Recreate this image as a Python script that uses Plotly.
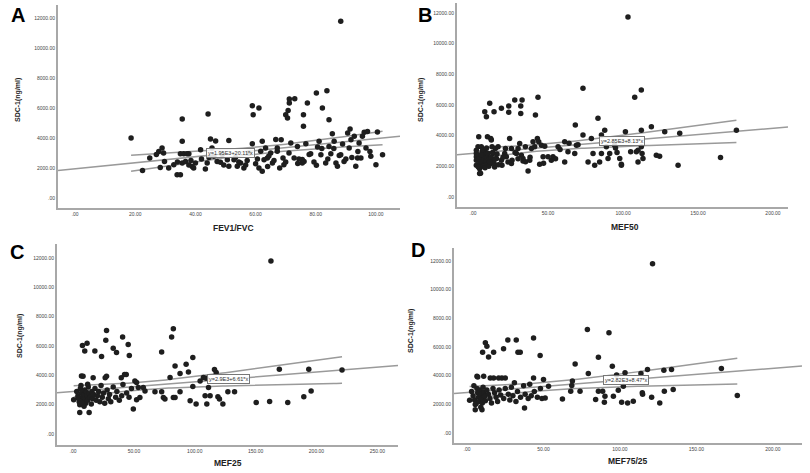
import numpy as np
import plotly.graph_objects as go

# ---------------- data ----------------
yticks = [0, 2000, 4000, 6000, 8000, 10000, 12000]
ytick_text = [".00", "2000.00", "4000.00", "6000.00", "8000.00", "10000.00", "12000.00"]

xA = [18.6, 22.4, 24.8, 27.0, 27.8, 28.9, 29.4, 28.3, 29.7, 31.1, 32.8, 33.9, 35.0, 35.6, 35.6, 35.0, 36.1, 37.2, 37.8,
      35.6, 36.7, 37.8, 38.9, 39.4, 40.0, 41.7, 43.3, 43.9, 44.2, 45.0, 45.5, 46.1, 47.2, 48.3, 50.6, 51.1, 51.1, 52.8,
      53.9, 55.0, 56.1, 57.2, 58.9, 59.2, 58.9, 60.0, 61.1, 61.1, 61.7, 62.2, 62.2, 62.8, 63.3, 63.9, 65.0, 65.6, 67.2,
      67.2, 68.0, 68.5, 69.1, 69.4, 70.0, 70.6, 70.8, 71.2, 71.2, 73.0, 71.7, 72.8, 73.9, 75.5, 76.1, 75.5, 75.9, 75.9,
      77.2, 76.7, 78.3, 80.2, 80.2, 80.6, 81.1, 81.7, 82.2, 83.3, 83.7, 84.4, 84.4, 85.0, 85.5, 86.1, 86.7, 87.2, 87.8,
      88.3, 88.3, 89.4, 90.6, 91.4, 91.1, 91.7, 92.8, 93.3, 93.9, 94.4, 95.0, 95.5, 96.1, 97.2, 96.7, 98.3, 100.0, 100.5,
      102.2, 42.0, 44.5, 48.9, 53.3, 54.4, 57.8, 60.6, 64.4, 66.1, 66.7, 70.0, 71.1, 74.4, 77.8, 79.4, 84.0, 86.0, 90.0,
      92.0, 94.0, 98.0, 34.0, 38.5, 46.7, 49.4, 56.7, 64.0, 74.0, 82.0, 88.9]
yA = [4000, 1840, 2670, 2900, 3100, 3330, 3000, 2040, 2440, 2000, 2220, 1550, 1550, 5270, 3780, 2950, 2950, 2950, 2950,
      2330, 2440, 2200, 2100, 2000, 2330, 3220, 1930, 2330, 5600, 3930, 3330, 2780, 2440, 2380, 2550, 3840, 2110, 2550,
      2110, 2330, 2000, 2500, 6150, 5550, 3620, 2290, 6000, 2000, 3110, 3780, 1780, 2550, 3330, 2670, 3000, 2330, 3110,
      3330, 2000, 3890, 2670, 2220, 5550, 5330, 5840, 6600, 6330, 6620, 3670, 2670, 3440, 2330, 2440, 2560, 5550, 4780,
      6330, 3620, 2950, 7000, 2180, 3400, 3780, 2890, 6000, 2330, 7150, 5220, 3440, 2950, 4290, 3780, 2330, 2110, 2840,
      2890, 11780, 2440, 4330, 4600, 3330, 3890, 4110, 2110, 2670, 3670, 2670, 4110, 4380, 4440, 3330, 2780, 2220, 4400,
      2890, 2600, 2700, 2900, 2700, 2400, 3000, 2600, 2800, 2500, 3900, 2400, 3000, 2600, 2900, 2400, 2600, 3300, 2600,
      2700, 3100, 3100, 2400, 2500, 3800, 2200, 2200, 2100, 2300, 3300, 3600]

xB = [4.4, 4.4, 5.0, 3.8, 2.2, 2.2, 2.2, 2.2, 2.2, 3.3, 5.5, 6.0, 6.6, 6.6, 7.8, 8.9, 9.6, 11.1, 11.8, 12.2, 12.7, 13.3,
      13.3, 11.8, 14.4, 15.6, 14.9, 14.0, 16.7, 18.9, 18.9, 19.3, 21.1, 21.6, 22.2, 23.3, 23.8, 23.8, 24.4, 25.6, 25.6,
      27.8, 28.9, 30.0, 31.1, 31.8, 31.8, 32.7, 32.2, 33.3, 33.3, 34.9, 36.7, 37.8, 38.9, 40.0, 41.1, 41.6, 42.9, 43.3,
      43.8, 44.4, 45.6, 46.7, 47.8, 50.0, 52.2, 53.3, 56.7, 61.1, 61.1, 63.3, 67.8, 68.2, 68.9, 73.3, 73.3, 76.7, 78.9,
      80.0, 81.1, 83.3, 84.4, 85.6, 85.6, 88.9, 87.8, 90.0, 91.1, 94.4, 97.8, 98.9, 98.9, 101.6, 103.3, 105.1, 107.8,
      108.9, 110.0, 110.0, 112.2, 112.2, 112.2, 112.7, 113.3, 118.9, 122.2, 124.4, 127.8, 136.7, 137.8, 165.0, 175.6,
      3.0, 4.0, 5.0, 6.0, 7.0, 7.5, 8.0, 8.5, 9.0, 9.5, 10.0, 10.5, 6.5, 5.5, 4.5, 3.5, 8.0, 9.0, 10.5, 12.0, 14.0, 16.0,
      17.0, 20.0, 26.0, 28.0, 30.0, 35.0, 38.0, 47.0, 55.0, 58.0, 64.0, 70.0, 95.0, 96.0, 11.0, 13.0, 15.0]
yB = [1850, 1530, 1550, 3930, 3050, 2840, 2620, 2400, 2070, 3270, 3270, 2950, 2620, 2290, 5560, 5240, 3930, 6110, 3820,
      3710, 3270, 2840, 2440, 2180, 1960, 2510, 3160, 5560, 3270, 5780, 2400, 2070, 2840, 3160, 2620, 2290, 5930, 5520,
      3820, 2180, 3160, 6330, 2840, 3160, 3490, 5930, 5450, 6330, 2730, 2510, 2340, 3270, 1700, 2400, 3160, 3600, 3270,
      5350, 3820, 6500, 3600, 2140, 3380, 2620, 3310, 2620, 2400, 2620, 3270, 3600, 2290, 2950, 2840, 4690, 3380, 4040,
      7090, 2290, 3820, 2840, 2070, 5130, 2290, 4040, 2840, 3270, 4360, 2510, 2840, 3380, 2510, 2140, 2070, 4260, 11740,
      2950, 6500, 2950, 3050, 2290, 6980, 4360, 3270, 2840, 2510, 4580, 2730, 2660, 4260, 2070, 4150, 2570, 4360,
      2700, 2500, 2200, 2000, 2400, 2700, 3000, 2300, 2100, 2600, 2850, 2450, 3100, 2750, 2300, 1950, 1900, 3200, 2000,
      2600, 2200, 2800, 2100, 2600, 2400, 2900, 2500, 2300, 2600, 2200, 2500, 3100, 3500, 3400, 3200, 2900, 2300, 2900,
      2500]

xC = [0.5, 5.5, 7.7, 9.6, 11.5, 13.2, 6.9, 8.2, 16.5, 17.9, 23.4, 26.4, 27.5, 26.9, 27.5, 33.0, 35.7, 39.6, 41.0, 42.3,
      43.7, 40.7, 45.3, 46.2, 49.5, 50.8, 52.2, 52.2, 53.6, 54.9, 57.7, 59.1, 67.3, 72.8, 74.2, 75.5, 72.8, 79.7, 81.0,
      82.4, 82.4, 83.8, 83.8, 87.9, 87.9, 92.9, 94.8, 96.2, 98.4, 98.4, 101.1, 104.4, 107.1, 108.5, 109.9, 109.3, 111.3,
      112.6, 117.6, 116.2, 119.0, 120.3, 123.1, 127.2, 132.7, 150.5, 161.5, 162.6, 169.5, 176.4, 189.6, 193.7, 195.6,
      221.0, 3.0, 4.0, 5.0, 5.5, 6.0, 7.0, 7.5, 8.0, 8.5, 9.0, 9.5, 10.0, 10.5, 11.0, 11.5, 12.0, 12.5, 13.0, 14.0, 15.0,
      15.5, 16.0, 17.0, 18.0, 19.0, 20.0, 21.0, 22.0, 23.0, 24.0, 25.0, 26.0, 28.0, 29.0, 30.0, 31.0, 33.0, 35.0, 36.0,
      38.0, 40.0, 44.0, 46.0, 48.0, 6.5, 9.0, 12.0, 4.0, 7.0]
yC = [2330, 1470, 6040, 5660, 6180, 1470, 3960, 3930, 3830, 5660, 5280, 3830, 3940, 6400, 7060, 5840, 5550, 3830, 3380,
      4050, 4050, 6610, 6110, 5360, 1700, 3620, 3510, 2330, 3170, 2490, 3170, 2940, 2880, 2880, 2490, 2380, 5590, 3850,
      6610, 7180, 2490, 2490, 4640, 4120, 2880, 4750, 4230, 2260, 3240, 5210, 2040, 3620, 3850, 2600, 2040, 3800, 3170,
      2600, 4190, 4400, 2540, 2380, 2040, 2880, 2880, 2150, 2220, 11800, 4410, 2150, 2540, 4410, 2940, 4370,
      2900, 2600, 2200, 2000, 3100, 2800, 2500, 2300, 2000, 2700, 3000, 2400, 2100, 2850, 2600, 2300, 3200, 2750, 2500,
      2050, 2900, 2400, 2700, 3100, 2300, 2600, 2900, 2200, 3300, 2500, 2800, 2100, 3000, 2400, 2700, 2200, 3200, 2500,
      2900, 2300, 2600, 2800, 2500, 3100, 3300, 1900, 3400, 2450, 2150]

xD = [1.7, 5.4, 5.4, 6.5, 9.8, 10.9, 10.2, 12.0, 13.0, 14.1, 17.4, 15.2, 17.4, 20.7, 22.8, 25.0, 23.9, 26.7, 32.2, 33.3,
      34.8, 37.6, 43.5, 43.5, 47.8, 50.0, 51.1, 53.3, 62.4, 67.8, 68.5, 68.9, 70.7, 73.9, 78.7, 79.3, 84.1, 85.9, 85.9,
      88.7, 89.8, 90.2, 92.8, 95.0, 95.7, 97.8, 98.9, 101.1, 102.2, 103.3, 105.0, 108.7, 113.7, 114.6, 114.8, 118.0,
      120.7, 121.3, 126.0, 128.7, 129.0, 133.7, 134.8, 166.3, 176.7, 3.0, 4.0, 5.0, 6.0, 6.5, 7.0, 7.5, 8.0, 8.5, 9.0,
      9.5, 10.0, 10.5, 11.0, 11.5, 12.0, 13.0, 14.0, 15.0, 16.0, 17.0, 18.0, 19.0, 20.0, 21.0, 22.0, 24.0, 25.0, 27.0,
      28.0, 29.0, 30.0, 31.0, 32.0, 33.0, 35.0, 37.0, 38.0, 40.0, 41.0, 42.0, 44.0, 46.0, 48.0, 49.0, 7.0, 9.0, 4.5]
yD = [2280, 1980, 1630, 3960, 1630, 3960, 5640, 6290, 6060, 5310, 5640, 3840, 3840, 3840, 3840, 3840, 5870, 6480, 6480,
      5640, 5640, 1750, 6620, 3840, 5410, 3730, 2450, 3260, 2380, 2910, 3310, 3620, 4820, 2910, 7220, 4150, 2330, 5290,
      2910, 2910, 2140, 2560, 6990, 4660, 2560, 4040, 2990, 2140, 3260, 4200, 2100, 2210, 4150, 2800, 2700, 4430, 2490,
      11800, 2100, 4370, 2910, 4430, 3030, 4500, 2610, 2900, 2600, 2300, 2050, 3100, 2800, 2500, 2200, 3000, 2700, 2400,
      2100, 3200, 2850, 2550, 2250, 3000, 2700, 2400, 2100, 3100, 2800, 2500, 2200, 3000, 2650, 2400, 3100, 2700, 2300,
      3200, 2600, 3500, 2200, 2900, 2500, 3300, 2700, 2400, 3400, 2600, 2900, 2500, 3100, 2400, 3900, 1800, 3300]

# fitted equations as printed on the chart (intercept, slope)
fitA = (1950, 20.11)
fitB = (2850, 8.13)
fitC = (2900, 6.61)
fitD = (2820, 8.47)
labelA = "y=1.95E3+20.11*x"
labelB = "y=2.85E3+8.13*x"
labelC = "y=2.9E3+6.61*x"
labelD = "y=2.82E3+8.47*x"

xtitleA, xtitleB, xtitleC, xtitleD = "FEV1/FVC", "MEF50", "MEF25", "MEF75/25"
xticksA = [0, 20, 40, 60, 80, 100]
xticksB = [0, 50, 100, 150, 200]
xticksC = [0, 50, 100, 150, 200, 250]
xticksD = [0, 50, 100, 150, 200]
label_xA, label_xB, label_xC, label_xD = 51.7, 99, 128, 104

# ---------------- layout geometry ----------------
W, H = 810, 473
panels = [
    dict(letter="A", x=xA, y=yA, fit=fitA, label=labelA, lx=label_xA, xt=xtitleA, xticks=xticksA,
         xr=[-5.7, 108], yr=[-667, 12870], px=(58, 400), py=(5, 208), let=(18, 15), yt=(18, 100), xtp=(233, 228)),
    dict(letter="B", x=xB, y=yB, fit=fitB, label=labelB, lx=label_xB, xt=xtitleB, xticks=xticksB,
         xr=[-10.7, 210], yr=[-652, 12652], px=(457, 788), py=(3, 207), let=(425, 15), yt=(421, 100), xtp=(625, 227)),
    dict(letter="C", x=xC, y=yC, fit=fitC, label=labelC, lx=label_xC, xt=xtitleC, xticks=xticksC,
         xr=[-13.2, 267], yr=[-750, 12955], px=(57, 398), py=(244, 445), let=(17, 252), yt=(20, 336), xtp=(228, 463)),
    dict(letter="D", x=xD, y=yD, fit=fitD, label=labelD, lx=label_xD, xt=xtitleD, xticks=xticksD,
         xr=[-8.5, 219], yr=[-698, 12907], px=(454, 802), py=(248, 443), let=(418, 250), yt=(411, 331), xtp=(627, 461)),
]

FONT = "Arial, Liberation Sans, sans-serif"
GREY = "#9a9a9a"
fig = go.Figure()
layout = {}
annotations = []

for i, p in enumerate(panels):
    k = "" if i == 0 else str(i + 1)
    xa, ya = "x" + k, "y" + k
    x = np.array(p["x"], float)
    y = np.array(p["y"], float)
    b0, b1 = p["fit"]
    xl = np.array(p["xr"], float)
    fig.add_trace(go.Scatter(x=xl, y=b0 + b1 * xl, mode="lines", xaxis=xa, yaxis=ya,
                             line=dict(color=GREY, width=1.5), showlegend=False, hoverinfo="skip"))
    n = len(x)
    resid = y - (b0 + b1 * x)
    s = np.sqrt(np.sum(resid ** 2) / (n - 2))
    xbar = x.mean()
    sxx = np.sum((x - xbar) ** 2)
    xs = np.linspace(x.min(), x.max(), 100)
    half = 1.97 * s * np.sqrt(1.0 / n + (xs - xbar) ** 2 / sxx)
    for sign in (1, -1):
        fig.add_trace(go.Scatter(x=xs, y=b0 + b1 * xs + sign * half, mode="lines", xaxis=xa, yaxis=ya,
                                 line=dict(color=GREY, width=1.5), showlegend=False, hoverinfo="skip"))
    fig.add_trace(go.Scatter(x=x, y=y, mode="markers", xaxis=xa, yaxis=ya, showlegend=False,
                             marker=dict(color="#1e1e1e", size=5.5)))

    x0, x1 = p["px"]
    t0, t1 = p["py"]
    common = dict(showgrid=False, zeroline=False, showline=True, linecolor="#a8a8a8", linewidth=2,
                  ticks="", tickfont=dict(size=5, color="#444", family=FONT))
    layout["xaxis" + k] = dict(domain=[x0 / W, x1 / W], range=p["xr"], anchor=ya,
                               tickvals=p["xticks"],
                               ticktext=[".00" if v == 0 else f"{v:.2f}" for v in p["xticks"]],
                               **common)
    layout["yaxis" + k] = dict(domain=[1 - t1 / H, 1 - t0 / H], range=p["yr"], anchor=xa,
                               tickvals=yticks, ticktext=ytick_text, **common)

    annotations.append(dict(x=p["lx"], y=b0 + b1 * p["lx"], xref=xa, yref=ya, text=p["label"],
                            showarrow=False, font=dict(size=5.5, color="#333", family=FONT),
                            bordercolor="#777", borderwidth=1, borderpad=1, bgcolor="rgba(255,255,255,0.85)"))
    lx, ly = p["let"]
    annotations.append(dict(x=lx / W, y=1 - ly / H, xref="paper", yref="paper", xanchor="center", yanchor="middle",
                            text="<b>" + p["letter"] + "</b>", showarrow=False,
                            font=dict(size=20, color="#000", family=FONT)))
    tx, ty = p["yt"]
    annotations.append(dict(x=tx / W, y=1 - ty / H, xref="paper", yref="paper", xanchor="center", yanchor="middle",
                            text="<b>SDC-1(ng/ml)</b>", showarrow=False, textangle=-90,
                            font=dict(size=7, color="#222", family=FONT)))
    gx, gy = p["xtp"]
    annotations.append(dict(x=gx / W, y=1 - gy / H, xref="paper", yref="paper", xanchor="center", yanchor="middle",
                            text="<b>" + p["xt"] + "</b>", showarrow=False,
                            font=dict(size=8.5, color="#222", family=FONT)))

fig.update_layout(width=W, height=H, margin=dict(l=0, r=0, t=0, b=0),
                  paper_bgcolor="white", plot_bgcolor="white", annotations=annotations, **layout)
fig.write_html("out.html", config={"displayModeBar": False},
               post_script="document.body.style.margin='0px';")
